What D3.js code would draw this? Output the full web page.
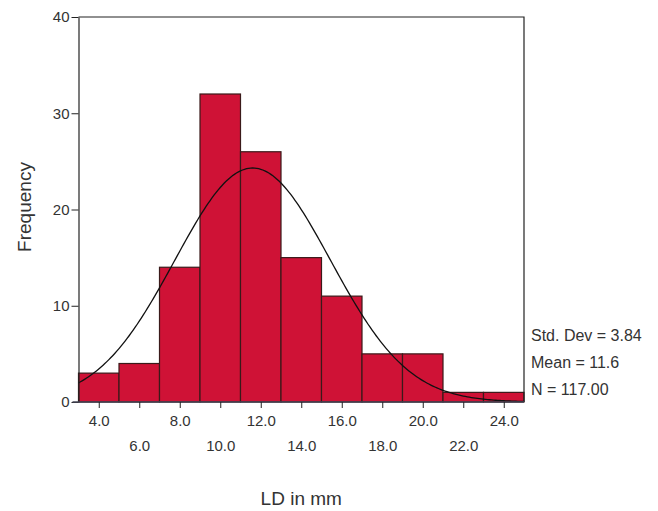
<!DOCTYPE html>
<html>
<head>
<meta charset="utf-8">
<script src="https://cdn.jsdelivr.net/npm/d3@7.9.0/dist/d3.min.js"></script>
<style>
  body { margin: 0; background: #fff; }
  svg, svg text { font-family: Arial, "Liberation Sans", sans-serif; }
</style>
</head>
<body>
<svg id="chart" width="658" height="511"></svg>
<script>
// bin centres (mm) and counts
const binCenters = [4, 6, 8, 10, 12, 14, 16, 18, 20, 22, 24];
const counts = [3, 4, 14, 32, 26, 15, 11, 5, 5, 1, 1];
const tickValues = [4, 6, 8, 10, 12, 14, 16, 18, 20, 22, 24];
const yTicks = [0, 10, 20, 30, 40];
const stats = ['Std. Dev = 3.84', 'Mean = 11.6', 'N = 117.00'];
const mean = 11.6, sd = 3.84, n = 117, binWidth = 2;

const svg = d3.select('#chart');
const plotLeft = 78.5, plotRight = 524, plotTop = 17, plotBottom = 402;
const font = 'Arial, "Liberation Sans", sans-serif';

const x = d3.scaleLinear().domain([3, 25]).range([plotLeft, plotRight]);
const y = d3.scaleLinear().domain([0, 40]).range([plotBottom, plotTop]);

// bars
svg.append('g')
  .selectAll('rect')
  .data(binCenters)
  .join('rect')
  .attr('x', d => x(d - binWidth / 2))
  .attr('width', d => x(d + binWidth / 2) - x(d - binWidth / 2))
  .attr('y', (d, i) => y(counts[i]))
  .attr('height', (d, i) => y(0) - y(counts[i]))
  .attr('fill', '#cf1236')
  .attr('stroke', '#3a1a1a')
  .attr('stroke-width', 1.2);

// normal curve
const curvePts = d3.range(3, 25.01, 0.1).map(v => [
  v,
  n * binWidth * Math.exp(-0.5 * ((v - mean) / sd) ** 2) / (sd * Math.sqrt(2 * Math.PI))
]);
svg.append('path')
  .datum(curvePts)
  .attr('fill', 'none')
  .attr('stroke', '#111')
  .attr('stroke-width', 1.3)
  .attr('d', d3.line().x(d => x(d[0])).y(d => y(d[1])));

// frame: top and right
svg.append('path')
  .attr('d', `M${plotLeft},${plotTop}H${plotRight}V${plotBottom}`)
  .attr('fill', 'none')
  .attr('stroke', '#222')
  .attr('stroke-width', 1.2);

// y axis
const yAxis = svg.append('g')
  .attr('transform', `translate(${plotLeft},0)`)
  .call(d3.axisLeft(y).tickValues(yTicks).tickSize(7).tickSizeOuter(0).tickFormat(d3.format('d')))
  .attr('font-family', font);
yAxis.select('.domain').attr('stroke', '#222').attr('stroke-width', 1.2);
yAxis.selectAll('.tick line').attr('stroke', '#222');
yAxis.selectAll('.tick text').attr('font-size', 15).attr('fill', '#333').attr('x', -9);

// x axis
const xAxis = svg.append('g')
  .attr('transform', `translate(0,${plotBottom})`)
  .call(d3.axisBottom(x).tickValues(tickValues).tickSize(6).tickSizeOuter(0).tickFormat(d3.format('.1f')))
  .attr('font-family', font);
xAxis.select('.domain').attr('stroke', '#445').attr('stroke-width', 1.5).attr('d', `M${plotLeft - 6},0H${plotRight}`);
xAxis.selectAll('.tick line').attr('stroke', '#222');
xAxis.selectAll('.tick text')
  .attr('font-size', 15)
  .attr('fill', '#333')
  .attr('y', (d, i) => i % 2 === 0 ? 13 : 38);

// axis titles
svg.append('text')
  .attr('transform', `translate(31,207) rotate(-90)`)
  .attr('text-anchor', 'middle')
  .attr('font-size', 19)
  .attr('fill', '#333')
  .text('Frequency');

svg.append('text')
  .attr('x', (plotLeft + plotRight) / 2)
  .attr('y', 505)
  .attr('text-anchor', 'middle')
  .attr('font-size', 19)
  .attr('fill', '#333')
  .text('LD in mm');

// stats
svg.append('g')
  .selectAll('text')
  .data(stats)
  .join('text')
  .attr('x', 531)
  .attr('y', (d, i) => 341 + i * 27)
  .attr('font-size', 16)
  .attr('fill', '#333')
  .text(d => d);
</script>
</body>
</html>
